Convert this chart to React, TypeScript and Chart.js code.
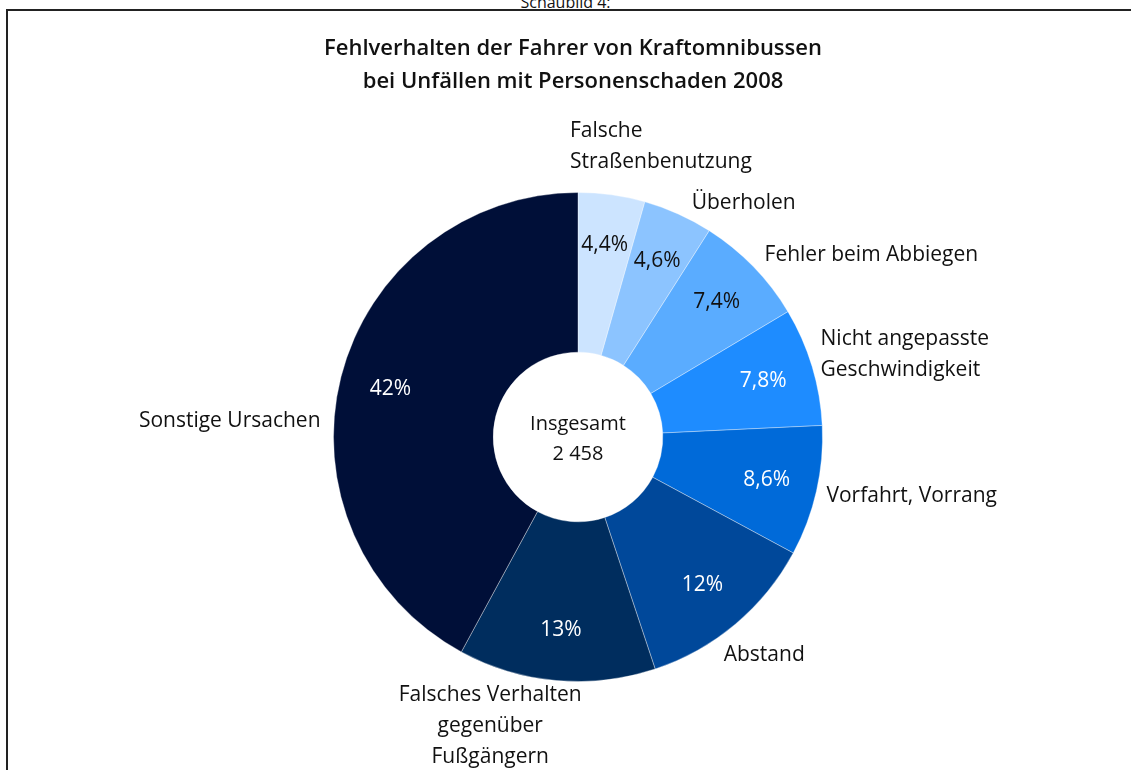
import React, { useEffect, useRef } from "react";
import { Chart, registerables } from "chart.js";

Chart.register(...registerables);

const categories: string[][] = [
  ["Falsche", "Straßenbenutzung"],
  ["Überholen"],
  ["Fehler beim Abbiegen"],
  ["Nicht angepasste", "Geschwindigkeit"],
  ["Vorfahrt, Vorrang"],
  ["Abstand"],
  ["Falsches Verhalten", "gegenüber", "Fußgängern"],
  ["Sonstige Ursachen"],
];
const values: number[] = [4.4, 4.6, 7.4, 7.8, 8.6, 12, 13, 42];
const valueLabels: string[] = ["4,4%", "4,6%", "7,4%", "7,8%", "8,6%", "12%", "13%", "42%"];
const colors: string[] = ["#cce4ff", "#8cc4ff", "#5aacff", "#1e8cff", "#006ad9", "#00489a", "#002d5e", "#000f38"];
const valueTextColors: string[] = ["#111", "#111", "#111", "#fff", "#fff", "#fff", "#fff", "#fff"];
const titleLines: string[] = ["Fehlverhalten der Fahrer von Kraftomnibussen", "bei Unfällen mit Personenschaden 2008"];
const centerLines: string[] = ["Insgesamt", "2 458"];

// label anchor offsets relative to center, in units of outer radius
const labelLayout = [
  { dx: -0.033, dy: -1.188, align: "left" },
  { dx: 0.465, dy: -0.959, align: "left" },
  { dx: 0.763, dy: -0.743, align: "left" },
  { dx: 0.992, dy: -0.337, align: "left" },
  { dx: 1.016, dy: 0.241, align: "left" },
  { dx: 0.596, dy: 0.89, align: "left" },
  { dx: -0.359, dy: 1.184, align: "center" },
  { dx: -1.053, dy: -0.065, align: "right" },
];

const FONT = "'Open Sans', 'Noto Sans', sans-serif";

const labelPlugin = {
  id: "labelPlugin",
  afterDraw(chart: any) {
    const ctx = chart.ctx as CanvasRenderingContext2D;
    const meta = chart.getDatasetMeta(0);
    const arcs = meta.data;
    if (!arcs.length) return;
    const a0 = arcs[0];
    const cx = a0.x, cy = a0.y;
    const R = a0.outerRadius, r = a0.innerRadius;
    ctx.save();
    ctx.textBaseline = "middle";
    // values
    ctx.font = `21px ${FONT}`;
    ctx.textAlign = "center";
    arcs.forEach((arc: any, i: number) => {
      const mid = (arc.startAngle + arc.endAngle) / 2;
      const rr = r + 0.68 * (R - r);
      ctx.fillStyle = valueTextColors[i];
      ctx.fillText(valueLabels[i], cx + Math.cos(mid) * rr, cy + Math.sin(mid) * rr);
    });
    // center
    ctx.fillStyle = "#111";
    ctx.font = `20px ${FONT}`;
    ctx.fillText(centerLines[0], cx, cy - 13);
    ctx.fillText(centerLines[1], cx, cy + 17);
    // category labels
    ctx.font = `21px ${FONT}`;
    const lh = 31;
    categories.forEach((lines, i) => {
      const L = labelLayout[i];
      const x = cx + L.dx * R;
      const y0 = cy + L.dy * R - ((lines.length - 1) * lh) / 2;
      ctx.textAlign = L.align as CanvasTextAlign;
      lines.forEach((t, j) => ctx.fillText(t, x, y0 + j * lh));
    });
    // title
    ctx.font = `600 22px ${FONT}`;
    ctx.textAlign = "center";
    ctx.fillText(titleLines[0], cx - 5, 49);
    ctx.fillText(titleLines[1], cx - 5, 82);
    ctx.restore();
  },
};

function PieChart() {
  const ref = useRef<HTMLCanvasElement>(null);
  useEffect(() => {
    if (!ref.current) return;
    const chart = new Chart(ref.current, {
      type: "doughnut",
      data: {
        labels: categories.map((c) => c.join(" ")),
        datasets: [
          {
            data: values,
            backgroundColor: colors,
            borderColor: "rgba(255,255,255,0.35)",
            borderWidth: 1,
          },
        ],
      },
      options: {
        responsive: false,
        animation: false,
        cutout: "34.7%",
        layout: { padding: { left: 333, right: 308, top: 192, bottom: 88 } },
        plugins: { legend: { display: false }, tooltip: { enabled: false } },
      },
      plugins: [labelPlugin],
    });
    return () => chart.destroy();
  }, []);
  return <canvas ref={ref} width={1131} height={770} style={{ position: "absolute", left: 0, top: 0 }} />;
}

export default function App() {
  return (
    <div style={{ position: "fixed", left: 0, top: 0, width: 1131, height: 770, overflow: "hidden", background: "#fff" }}>
      <div
        style={{
          position: "absolute",
          left: 6,
          top: 9,
          width: 1200,
          height: 900,
          border: "2px solid #222",
          boxSizing: "border-box",
        }}
      />
      <div
        style={{
          position: "absolute",
          left: 0,
          width: 1131,
          top: -9,
          textAlign: "center",
          fontFamily: FONT,
          fontSize: 16,
          color: "#111",
          paddingRight: 1,
        }}
      >
        Schaubild 4:
      </div>
      <PieChart />
    </div>
  );
}
